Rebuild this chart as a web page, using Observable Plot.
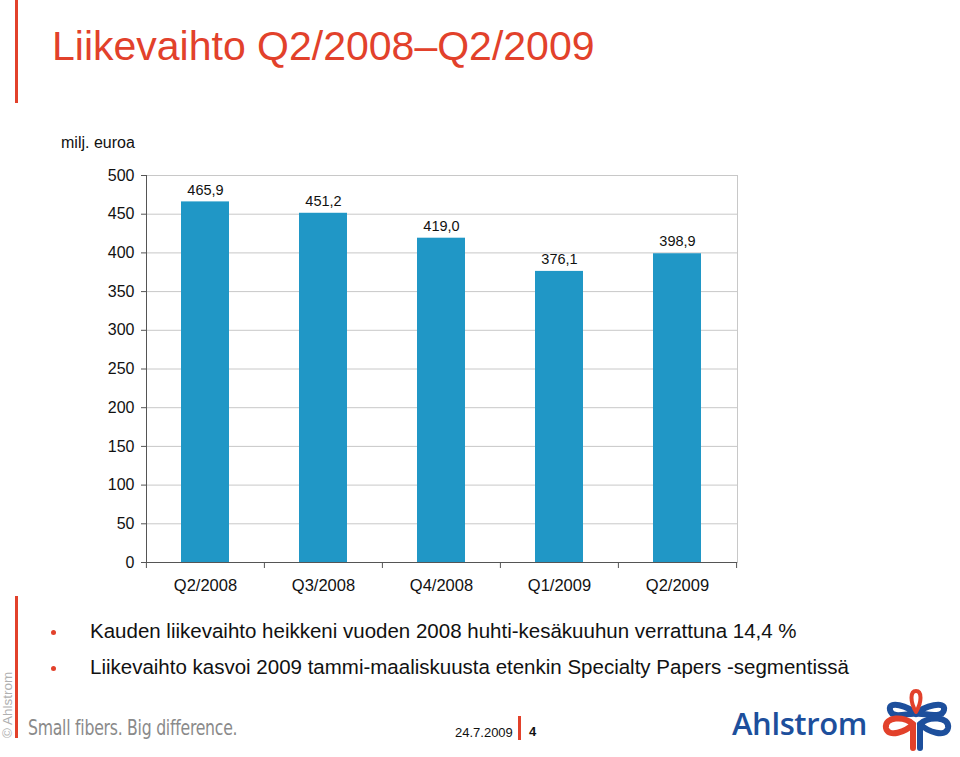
<!DOCTYPE html>
<html>
<head>
<meta charset="utf-8">
<script src="https://cdn.jsdelivr.net/npm/d3@7"></script>
<script src="https://cdn.jsdelivr.net/npm/@observablehq/plot@0.6"></script>
<style>
  html, body { margin: 0; padding: 0; background: #fff; }
  body { width: 960px; height: 757px; position: relative; overflow: hidden; font-family: "Liberation Sans", Arial, sans-serif; }
  .abs { position: absolute; white-space: nowrap; }
  #title { left: 52px; top: 23px; font-size: 41px; color: #e2412b; }
  .redline { position: absolute; background: #e2412b; width: 3px; left: 15px; }
  #unit { left: 61px; top: 134px; font-size: 16px; color: #111; }
  .bullet { left: 90px; font-size: 20.5px; color: #111; }
  .dot { position: absolute; width: 5px; height: 5px; border-radius: 50%; background: #e2412b; left: 51px; }
  #slogan { left: 28px; top: 716px; font-size: 21px; color: #8a8a8a; font-family: "DejaVu Sans Condensed", "DejaVu Sans", sans-serif; font-stretch: condensed; transform: scaleX(0.83); transform-origin: left top; letter-spacing: -0.3px; }
  #copy { left: 0px; top: 738px; font-size: 13.5px; color: #b0b0b0; transform: rotate(-90deg); transform-origin: left top; }
  #date { left: 455px; top: 725px; font-size: 13px; color: #111; }
  #pnum { left: 529px; top: 724px; font-size: 13px; font-weight: bold; color: #111; }
  #logo { left: 732px; top: 702px; font-size: 31px; color: #1d4f9c; font-family: "Open Sans", "Liberation Sans", sans-serif; font-weight: 600; letter-spacing: -0.4px; }
</style>
</head>
<body>
<div class="redline" style="top:0; height:103px;"></div>
<div class="redline" style="top:596px; height:142px;"></div>
<div id="title" class="abs">Liikevaihto Q2/2008–Q2/2009</div>
<div id="unit" class="abs">milj. euroa</div>
<div id="chart" style="position:absolute; left:0; top:150px;"></div>
<div class="dot" style="top:630px;"></div>
<div class="abs bullet" style="top:619px;">Kauden liikevaihto heikkeni vuoden 2008 huhti-kesäkuuhun verrattuna 14,4 %</div>
<div class="dot" style="top:666px;"></div>
<div class="abs bullet" style="top:655px;">Liikevaihto kasvoi 2009 tammi-maaliskuusta etenkin Specialty Papers -segmentissä</div>
<div id="copy" class="abs">© Ahlstrom</div>
<div id="slogan" class="abs">Small fibers. Big difference.</div>
<div id="date" class="abs">24.7.2009</div>
<div class="abs" style="left:518px; top:716px; width:3px; height:24px; background:#e2412b;"></div>
<div id="pnum" class="abs">4</div>
<div id="logo" class="abs">Ahlstrom</div>
<svg class="abs" style="left:880px; top:688px;" width="76" height="64" viewBox="0 0 76 64">
  <g fill="none" stroke-width="6" stroke-linecap="round">
    <path d="M36 26 C 28 18, 8 12, 10 22 C 12 32, 30 24, 36 26" stroke="#1d4f9c"/>
    <path d="M36 26 C 44 18, 66 12, 64 22 C 62 32, 42 24, 36 26" stroke="#1d4f9c"/>
    <path d="M36 24 C 30 14, 30 3, 36 3 C 42 3, 42 14, 36 24" stroke="#e2412b" stroke-width="4"/>
    <path d="M33 60 L 33 36 C 25 28, 4 28, 6 40 C 8 50, 26 44, 33 36" stroke="#e2412b"/>
    <path d="M40 60 L 40 36 C 48 28, 70 28, 68 40 C 66 50, 48 44, 40 36" stroke="#1d4f9c"/>
  </g>
</svg>
<script>
const quarters = ["Q2/2008", "Q3/2008", "Q4/2008", "Q1/2009", "Q2/2009"];
const revenue = [465.9, 451.2, 419.0, 376.1, 398.9];
const yTicks = [0, 50, 100, 150, 200, 250, 300, 350, 400, 450, 500];

const data = quarters.map((q, i) => ({quarter: q, value: revenue[i]}));
const fmt = v => v.toFixed(1).replace(".", ",");

const W = 760, H = 460, mL = 146, mR = 23;
const step = (W - mL - mR) / quarters.length;

const chart = Plot.plot({
  width: W,
  height: H,
  marginLeft: mL,
  marginRight: mR,
  marginTop: 25,
  marginBottom: 48,
  style: { fontFamily: "Liberation Sans, Arial, sans-serif", fontSize: "16px", background: "transparent", overflow: "visible" },
  x: { domain: quarters, paddingInner: 0.59, paddingOuter: 0.295, label: null },
  y: { domain: [0, 500], label: null },
  marks: [
    Plot.gridY(yTicks, { stroke: "#c8c8c8", strokeOpacity: 1 }),
    Plot.frame({ anchor: "right", stroke: "#c8c8c8" }),
    Plot.barY(data, { x: "quarter", y: "value", fill: "#2097c6" }),
    Plot.text(data, { x: "quarter", y: "value", text: d => fmt(d.value), dy: -12, fontSize: 14.5, fill: "#111", style: "letter-spacing:1.6px" }),
    Plot.axisY({ ticks: yTicks, tickSize: 5, tickPadding: 7, fontSize: 16, stroke: "#555", color: "#111", label: null }),
    Plot.frame({ anchor: "left", stroke: "#555" }),
    Plot.ruleY([0], { stroke: "#555" }),
    Plot.axisX({ tickSize: 0, tickPadding: 17, fontSize: 16.5, color: "#111", label: null }),
    Plot.axisX({ tickSize: 6, text: null, dx: -step / 2, stroke: "#555", label: null }),
    Plot.axisX(quarters.slice(-1), { tickSize: 6, text: null, dx: step / 2, stroke: "#555", label: null })
  ]
});
document.getElementById("chart").appendChild(chart);
</script>
</body>
</html>
